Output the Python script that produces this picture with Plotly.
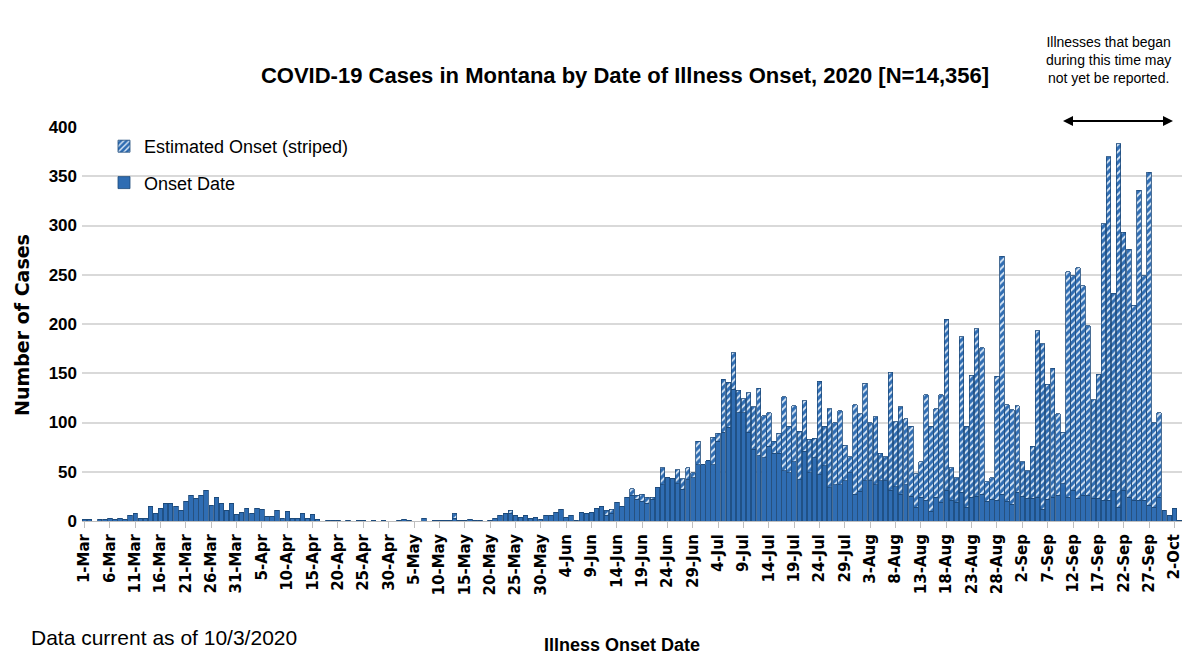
import pandas as pd
import plotly.graph_objects as go

# ---- data -------------------------------------------------------------
start_date = "2020-03-01"
end_date = "2020-10-03"

onset = [2, 2, 0, 2, 2, 3, 2, 3, 2, 6, 8, 3, 3, 15, 8, 13, 18, 18, 15, 11,
         20, 26, 23, 26, 31, 16, 24, 18, 11, 18, 7, 9, 13, 8, 13, 12, 5, 5, 11, 3,
         10, 3, 3, 8, 3, 7, 2, 0, 1, 1, 1, 0, 1, 0, 1, 1, 0, 1, 0, 1,
         0, 0, 1, 2, 1, 0, 0, 3, 0, 1, 1, 1, 1, 3, 1, 1, 2, 1, 1, 0,
         1, 3, 6, 8, 8, 6, 4, 6, 3, 4, 2, 6, 6, 9, 12, 4, 6, 1, 9, 8,
         9, 13, 15, 6, 8, 19, 15, 24, 26, 22, 20, 18, 22, 34, 37, 44, 43, 38, 32, 42,
         44, 57, 57, 61, 57, 81, 90, 95, 134, 110, 110, 90, 73, 66, 64, 76, 69, 69, 51, 49,
         60, 42, 71, 49, 64, 47, 56, 34, 37, 37, 41, 49, 27, 30, 41, 41, 37, 41, 41, 31,
         35, 27, 37, 25, 14, 24, 21, 10, 24, 19, 31, 21, 19, 29, 14, 24, 25, 27, 20, 22,
         21, 27, 20, 17, 29, 25, 23, 23, 24, 12, 22, 24, 26, 38, 24, 31, 23, 26, 26, 23,
         23, 21, 21, 31, 14, 31, 24, 21, 21, 21, 16, 14, 24, 11, 6, 13, 1]

estimated = [0] * 73 + [5] + [0] * 10 + [3] + [0] * 18 + \
    [5, 4, 0, 0, 0, 7, 4, 7, 6, 2, 0, 17, 0, 0, 14, 11, 12, 5, 24, 0,
     0, 28, 8, 54, 46, 37, 23, 14, 40, 43, 69, 43, 34, 12, 20, 75, 47, 57, 49, 51,
     34, 20, 95, 40, 80, 63, 75, 36, 16, 91, 79, 99, 59, 69, 28, 24, 120, 66, 89, 67,
     71, 34, 36, 107, 86, 90, 109, 174, 33, 25, 158, 82, 124, 170, 149, 20, 22, 126, 242, 98,
     96, 88, 35, 28, 53, 169, 168, 117, 131, 83, 52, 229, 218, 234, 213, 172, 100, 126, 281, 349,
     200, 369, 262, 252, 198, 315, 228, 338, 86, 86, 0, 0, 0, 0]

dates = pd.date_range(start_date, end_date, freq="D")
day_labels = [f"{d.day}-{d.strftime('%b')}" for d in dates]
tick_labels = day_labels[:216:5]

title_text = "COVID-19 Cases in Montana by Date of Illness Onset, 2020 [N=14,356]"
note_text = "Illnesses that began<br>during this time may<br>not yet be reported."

# ---- styling ------------------------------------------------------------
BLUE = "#2f6db3"
EDGE = "#1d4a7a"
SANS = "Liberation Sans, Arial, sans-serif"
WIDE = "DejaVu Sans, Verdana, sans-serif"

fig = go.Figure()
fig.add_trace(go.Bar(
    x=day_labels, y=onset, name="Onset Date", legendgroup="a", legendrank=2,
    marker=dict(color=BLUE, line=dict(color=EDGE, width=0.8)),
))
fig.add_trace(go.Bar(
    x=day_labels, y=estimated, name="Estimated Onset (striped)", legendgroup="b", legendrank=1,
    marker=dict(color=BLUE, line=dict(color=EDGE, width=0.8),
                pattern=dict(shape="/", fgcolor="#dce9f6", bgcolor=BLUE,
                             size=5, solidity=0.35, fillmode="replace")),
))

# page body adds an 8px margin; work in reference-pixel coordinates
OFF = 8
W, H = 1192 - OFF, 655 - OFF
L, R, T, B = 82 - OFF, 10, 127 - OFF, 134
pw, ph = W - L - R, H - T - B


def px(xref):
    return (xref - OFF - L) / pw


def py(yref):
    return (H - B - (yref - OFF)) / ph


fig.update_layout(
    width=W, height=H,
    margin=dict(l=L, r=R, t=T, b=B),
    paper_bgcolor="white", plot_bgcolor="white",
    barmode="stack", bargap=0.12,
    font=dict(family=SANS, color="black"),
    title=dict(text=f"<b>{title_text}</b>", x=px(625), xref="paper", xanchor="center",
               y=1 - (75 - OFF) / H, yanchor="middle",
               font=dict(family=SANS, size=22, color="black")),
    legend=dict(x=px(104), y=py(128), xanchor="left", yanchor="top",
                traceorder="grouped", tracegroupgap=10,
                font=dict(family=SANS, size=18, color="black"),
                bgcolor="rgba(0,0,0,0)"),
    xaxis=dict(
        type="category", categoryorder="array", categoryarray=day_labels,
        tickmode="array", tickvals=tick_labels, ticktext=tick_labels,
        tickangle=-90, tickfont=dict(family=WIDE, size=15, color="black", weight="bold"),
        showline=True, linecolor="#bfbfbf", linewidth=1,
        ticks="outside", ticklen=6, tickcolor="#bfbfbf",
        showgrid=False, range=[-0.5, len(day_labels) - 0.5],
    ),
    yaxis=dict(
        range=[0, 400], dtick=50, showgrid=True, gridcolor="#d9d9d9", gridwidth=1.5,
        zeroline=False, showline=False, ticks="", ticklabelstandoff=4,
        tickfont=dict(family=SANS, size=17, color="black", weight="bold"),
    ),
    annotations=[
        dict(text="<b>Number of Cases</b>", xref="paper", yref="paper", x=px(22), y=py(325),
             xanchor="center", yanchor="middle",
             textangle=-90, showarrow=False, font=dict(family=WIDE, size=19, color="black")),
        dict(text="<b>Illness Onset Date</b>", xref="paper", yref="paper", x=px(622), y=py(645),
             xanchor="center", yanchor="middle",
             showarrow=False, font=dict(family=SANS, size=18, color="black")),
        dict(text="Data current as of 10/3/2020", xref="paper", yref="paper", x=px(29), y=py(637),
             xanchor="left", yanchor="middle", showarrow=False,
             font=dict(family=SANS, size=21, color="black")),
        dict(text=note_text, xref="paper", yref="paper", x=px(1108), y=py(60),
             xanchor="center", yanchor="middle", showarrow=False,
             font=dict(family=SANS, size=14, color="black"), align="center"),
        dict(text="", xref="paper", yref="paper", x=px(1063), y=py(121), ax=80, ay=0,
             showarrow=True, arrowhead=2, arrowsize=1, arrowwidth=2, arrowcolor="black"),
        dict(text="", xref="paper", yref="paper", x=px(1173), y=py(121), ax=-80, ay=0,
             showarrow=True, arrowhead=2, arrowsize=1, arrowwidth=2, arrowcolor="black"),
    ],
)

fig.write_html("out.html")
